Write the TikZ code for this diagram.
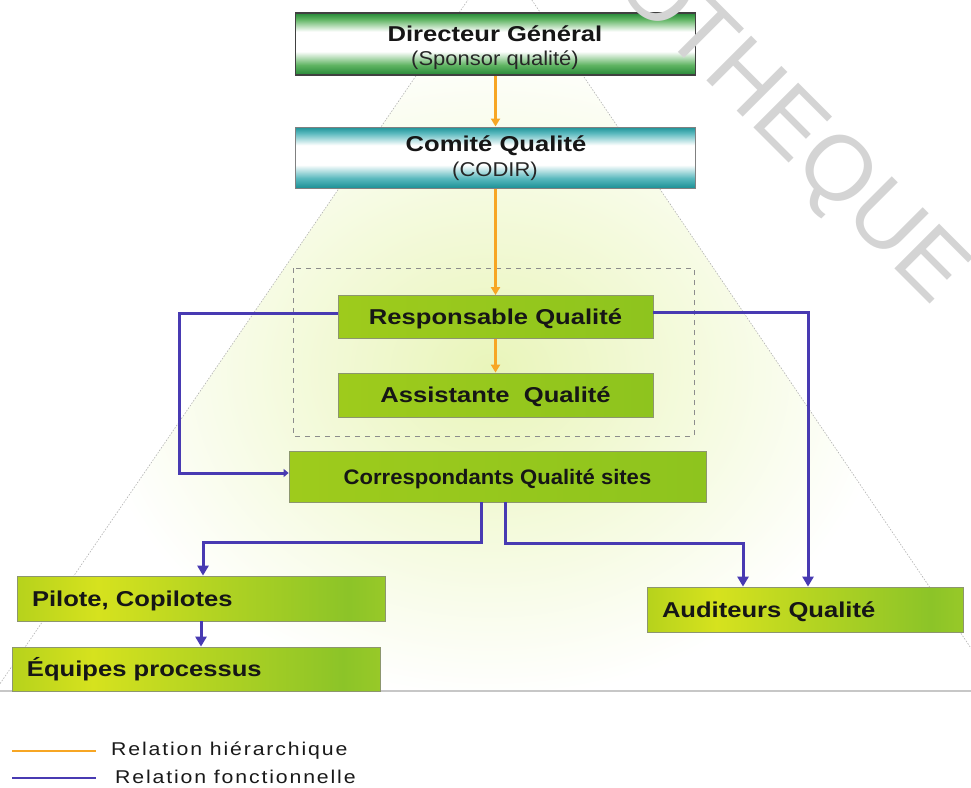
\documentclass[tikz,border=0pt]{standalone}
\usepackage{fontspec}
\setmainfont{Liberation Sans}
\newfontfamily\boxfont[FakeStretch=1.19]{Liberation Sans}
\newfontfamily\subfont[FakeStretch=1.1]{Liberation Sans}
\newfontfamily\sitefont[FakeStretch=1.05]{Liberation Sans}
\newfontfamily\legfont[FakeStretch=1.15,LetterSpace=10]{Liberation Sans}
\usetikzlibrary{arrows.meta}

% palette
\definecolor{hierorange}{RGB}{247,166,36}
\definecolor{funcblue}{RGB}{72,58,178}
\definecolor{dgdark}{RGB}{38,135,55}
\definecolor{dggreen}{RGB}{95,180,98}
\definecolor{cqdark}{RGB}{28,145,150}
\definecolor{cqteal}{RGB}{90,185,190}
\definecolor{limeflat}{RGB}{142,196,30}
\definecolor{limeflatl}{RGB}{158,203,28}
\definecolor{limeleft}{RGB}{182,210,28}
\definecolor{limeyel}{RGB}{214,226,30}
\definecolor{limemid}{RGB}{178,211,34}
\definecolor{limeright}{RGB}{140,196,40}
\definecolor{limeedge}{RGB}{152,201,40}
\definecolor{glow}{RGB}{233,245,186}
\definecolor{wmgray}{RGB}{212,212,212}
\definecolor{inkdark}{RGB}{22,22,22}
\definecolor{boxline}{RGB}{140,150,110}

% glossy bands for the two top boxes (bottom = 25bp, top = 75bp)
\pgfdeclareverticalshading{dgshade}{100bp}{color(0bp)=(dgdark); color(25bp)=(dgdark);
  color(33bp)=(dggreen); color(44bp)=(white); color(60bp)=(white);
  color(70bp)=(dggreen); color(75bp)=(dgdark); color(100bp)=(dgdark)}
\pgfdeclareverticalshading{cqshade}{100bp}{color(0bp)=(cqdark); color(25bp)=(cqdark);
  color(33bp)=(cqteal); color(44bp)=(white); color(60bp)=(white);
  color(70bp)=(cqteal); color(75bp)=(cqdark); color(100bp)=(cqdark)}
% left-to-right lime gradient for the lower boxes
\pgfdeclarehorizontalshading{limeshade}{100bp}{color(0bp)=(limeleft); color(25bp)=(limeleft);
  color(36bp)=(limeyel); color(52bp)=(limemid); color(70bp)=(limeright);
  color(75bp)=(limeedge); color(100bp)=(limeedge)}

\tikzset{
  box/.style={draw=boxline, line width=0.8pt, inner sep=0pt, rectangle},
  dgbox/.style={box, draw=black!75, line width=1.2pt, shading=dgshade,
    minimum width=400pt, minimum height=62pt},
  cqbox/.style={box, draw=black!50, line width=1pt, shading=cqshade,
    minimum width=400pt, minimum height=61pt},
  flatbox/.style={box, left color=limeflatl, right color=limeflat,
    minimum width=315pt, minimum height=43pt},
  gradbox/.style={box, shading=limeshade, minimum width=368pt,
    minimum height=45pt},
  title/.style={inner sep=0pt, text=inkdark, text height=15.4pt, text depth=0pt,
    font=\boxfont\bfseries\fontsize{21.5}{24}\selectfont},
  subtitle/.style={inner sep=0pt, text=black!85, text height=14.3pt, text depth=0pt,
    font=\subfont\fontsize{20}{24}\selectfont},
  boxtext/.style={text=inkdark, text height=15.4pt, text depth=0pt,
    font=\boxfont\bfseries\fontsize{21.5}{24}\selectfont},
  lefttext/.style={boxtext, text width=338pt, align=left, inner xsep=15pt, inner ysep=0pt},
  hier/.style={draw=hierorange, line width=2.8pt, -{Triangle[length=8pt,width=9pt]}},
  func/.style={draw=funcblue, line width=3pt, -{Triangle[length=10pt,width=11pt]}},
  legend/.style={inner sep=0pt, text=black!90, font=\legfont\fontsize{18.5}{22}\selectfont},
}

\begin{document}
\begin{tikzpicture}[x=1pt, y=-1pt]
\useasboundingbox (0,0) rectangle (971,787);
\clip (0,0) rectangle (971,787);

% pyramid backdrop with a soft lime glow
\begin{scope}
  \clip (500,-47) -- (-5,691) -- (1000,691) -- cycle;
  \fill[white] (0,0) rectangle (971,691);
  \shade[inner color=glow, outer color=white] (490,370) ellipse [x radius=400, y radius=330];
\end{scope}
\draw[black!30, line width=0.6pt, dash pattern=on 1.5pt off 1.5pt]
  (-5,691) -- (500,-47) -- (1000,691);
\draw[black!22, line width=1.5pt] (0,691) -- (971,691);

% group around the quality manager and assistant
\draw[black!45, line width=0.8pt, dash pattern=on 5pt off 5pt] (293,268) rectangle (694,436);

% boxes
\node[dgbox] (dg) at (495.5,44) {};
\node[title] (dgt) at (495,34) {Directeur Général};
\node[subtitle] (dgs) at (495,58) {(Sponsor qualité)};

\node[cqbox] (cq) at (495.5,157.5) {};
\node[title] (cqt) at (496,144) {Comité Qualité};
\node[subtitle] (cqs) at (495,169.5) {(CODIR)};

\node[flatbox, boxtext] (rq) at (495.5,317) {Responsable Qualité};
\node[flatbox, boxtext, minimum height=44pt] (aq) at (495.5,395) {Assistante\ \ Qualité};
\node[flatbox, boxtext, minimum width=417pt, minimum height=51pt,
  font=\sitefont\bfseries\fontsize{21}{24}\selectfont] (cs) at (497.5,476.5)
  {Correspondants Qualité sites};

\node[gradbox, lefttext] (pc) at (201,598.5) {Pilote, Copilotes};
\node[gradbox, lefttext, minimum height=44pt] (ep) at (196,669) {Équipes processus};
\node[gradbox, lefttext, minimum width=316pt, text width=286pt] (au) at (805,609.5) {Auditeurs Qualité};

% hierarchical links
\draw[hier] (dg.south) -- (dg.south |- cq.north);
\draw[hier] (cq.south) -- (cq.south |- rq.north);
\draw[hier] (rq.south) -- (rq.south |- aq.north);

% functional links
\draw[func, -{Triangle[length=5pt,width=8pt]}] ([yshift=3.5pt]rq.west) -- ++(-158,0) |- ([yshift=3.5pt]cs.west);
\draw[func] ([yshift=4.5pt]rq.east) -| ([xshift=3pt]au.north);
\draw[func] ([xshift=-16.5pt]cs.south) -- ++(0,40) -| ([xshift=2pt]pc.north);
\draw[func] ([xshift=7.5pt]cs.south) -- ++(0,41) -| ([xshift=-62pt]au.north);
\draw[func] (pc.south) -- (pc.south |- ep.north);

% legend
\coordinate (lh1) at (12,751);
\coordinate (lh2) at (96,751);
\coordinate (lf1) at (12,778);
\coordinate (lf2) at (96,778);
\draw[draw=hierorange, line width=2.6pt] (lh1) -- (lh2);
\draw[draw=funcblue, line width=2.8pt] (lf1) -- (lf2);
\node[legend, anchor=base west] (lht) at (111,755) {Relation hiérarchique};
\node[legend, anchor=base west] (lft) at (115,783) {Relation fonctionnelle};

% watermark
\node[rotate=-45, anchor=base, inner sep=0pt, text=wmgray,
  font=\fontsize{92}{92}\selectfont] (wm) at (772,146) {OTHEQUE};
\end{tikzpicture}
\end{document}
